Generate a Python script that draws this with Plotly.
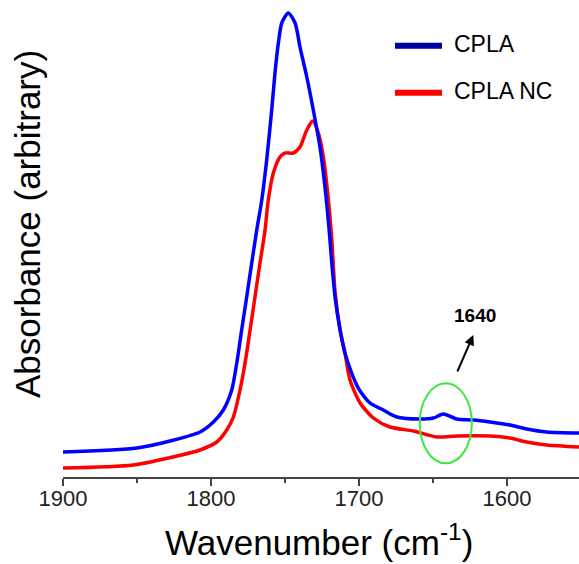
import plotly.graph_objects as go

# FTIR spectra (wavenumber in cm-1, absorbance in arbitrary units)
cpla_wn = [1900, 1850, 1825, 1807.4, 1798.4, 1791.7, 1786.0, 1782.6, 1779.3, 1775.9,
           1772.5, 1769.1, 1765.7, 1762.4, 1759.0, 1756.8, 1754.5, 1752.2, 1747.8,
           1743.2, 1739.9, 1735.3, 1730.9, 1726.4, 1723.0, 1720.2, 1718.4, 1716.2,
           1712.8, 1709.5, 1705.0, 1701.6, 1699.3, 1692.6, 1683.6, 1674.5, 1658.8,
           1649.8, 1643.0, 1634.0, 1622.8, 1611.5, 1598.0, 1586.7, 1573.2, 1551.4]
cpla_abs = [0.25, 0.29, 0.37, 0.45, 0.55, 0.67, 0.87, 1.14, 1.47, 1.80,
            2.14, 2.47, 2.77, 3.17, 3.67, 4.04, 4.34, 4.54, 4.64,
            4.54, 4.30, 4.00, 3.67, 3.30, 2.90, 2.47, 2.14, 1.80,
            1.47, 1.24, 1.04, 0.92, 0.86, 0.74, 0.67, 0.60, 0.58,
            0.59, 0.63, 0.58, 0.57, 0.55, 0.52, 0.48, 0.45, 0.44]

nc_wn = [1900, 1852.5, 1820, 1807.4, 1796.1, 1789.4, 1784.9, 1780.4, 1777.0, 1773.6,
         1770.3, 1766.9, 1763.5, 1761.3, 1757.9, 1753.4, 1750.0, 1744.4, 1739.9,
         1735.3, 1731.3, 1727.5, 1724.1, 1720.7, 1718.4, 1716.2, 1712.8, 1709.5,
         1706.1, 1699.3, 1690.3, 1679.1, 1663.3, 1647.5, 1634.0, 1611.5, 1598.0,
         1586.7, 1573.2, 1551.4]
nc_abs = [0.09, 0.12, 0.22, 0.27, 0.35, 0.47, 0.60, 0.87, 1.14, 1.47,
          1.80, 2.14, 2.47, 2.77, 3.04, 3.20, 3.24, 3.24, 3.30,
          3.47, 3.56, 3.44, 3.20, 2.77, 2.37, 1.85, 1.47, 1.24,
          0.97, 0.74, 0.59, 0.50, 0.46, 0.40, 0.41, 0.41, 0.39,
          0.35, 0.32, 0.30]

series_names = ["CPLA", "CPLA NC"]
line_colors = ["#0000ff", "#ff0000"]
legend_colors = ["#00009c", "#ff0000"]

font = "Arial, Liberation Sans, sans-serif"

fig = go.Figure()
fig.add_trace(go.Scatter(x=nc_wn, y=nc_abs, mode="lines", name=series_names[1],
                         line=dict(color=line_colors[1], width=3.5, shape="spline", smoothing=0.7)))
fig.add_trace(go.Scatter(x=cpla_wn, y=cpla_abs, mode="lines", name=series_names[0],
                         line=dict(color=line_colors[0], width=3.5, shape="spline", smoothing=0.7)))

# hand-made legend
for i, (name, col) in enumerate(zip(series_names, legend_colors)):
    ypos = 0.9042 - i * 0.0985
    fig.add_shape(type="line", xref="paper", yref="paper", x0=0.6434, x1=0.7345,
                  y0=ypos, y1=ypos, line=dict(color=col, width=6))
    fig.add_annotation(xref="paper", yref="paper", x=0.754, y=ypos + 0.004, text=name,
                       showarrow=False, xanchor="left", yanchor="middle",
                       font=dict(family=font, size=23, color="black"))

# 1640 band highlight
fig.add_shape(type="circle", xref="x", yref="y", x0=1659, x1=1623.8, y0=0.137, y1=0.937,
              line=dict(color="#3ee83e", width=2))
fig.add_annotation(x=1622.8, y=1.42, ax=1634, ay=1.04, axref="x", ayref="y", text="",
                   showarrow=True, arrowhead=2, arrowsize=1, arrowwidth=2, arrowcolor="black")
fig.add_annotation(x=1621.8, y=1.62, text="<b>1640</b>", showarrow=False,
                   font=dict(family=font, size=19, color="black"))

# axis titles
fig.add_annotation(xref="paper", yref="paper", x=0.496, y=-0.132,
                   xanchor="center", yanchor="middle",
                   text="Wavenumber (cm<sup>-1</sup>)", showarrow=False,
                   font=dict(family=font, size=35, color="black"))
fig.add_annotation(xref="paper", yref="paper", x=-0.0678, y=0.5304,
                   xanchor="center", yanchor="middle",
                   text="Absorbance (arbitrary)", textangle=-90, showarrow=False,
                   font=dict(family=font, size=35, color="black"))

fig.update_layout(
    width=579, height=564,
    margin=dict(l=63, r=0, t=0, b=87),
    plot_bgcolor="white", paper_bgcolor="white",
    showlegend=False,
    xaxis=dict(range=[1900, 1551.4], tickvals=[1900, 1800, 1700, 1600],
               ticks="outside", ticklen=7, tickwidth=1.5, tickcolor="#444",
               showline=True, linecolor="#444", linewidth=1.5,
               showgrid=False, zeroline=False, ticklabelstandoff=-6,
               minor=dict(ticks="outside", ticklen=4, tickwidth=1.5, tickcolor="#444", dtick=50),
               tickfont=dict(family=font, size=22, color="#222")),
    yaxis=dict(range=[0, 4.77], visible=False),
)

# drop the default 8px page margin so the figure sits at the window corner
fig.write_html("out.html", config={"displayModeBar": False},
               post_script="document.body.style.margin='0px';document.body.style.overflow='hidden';")
